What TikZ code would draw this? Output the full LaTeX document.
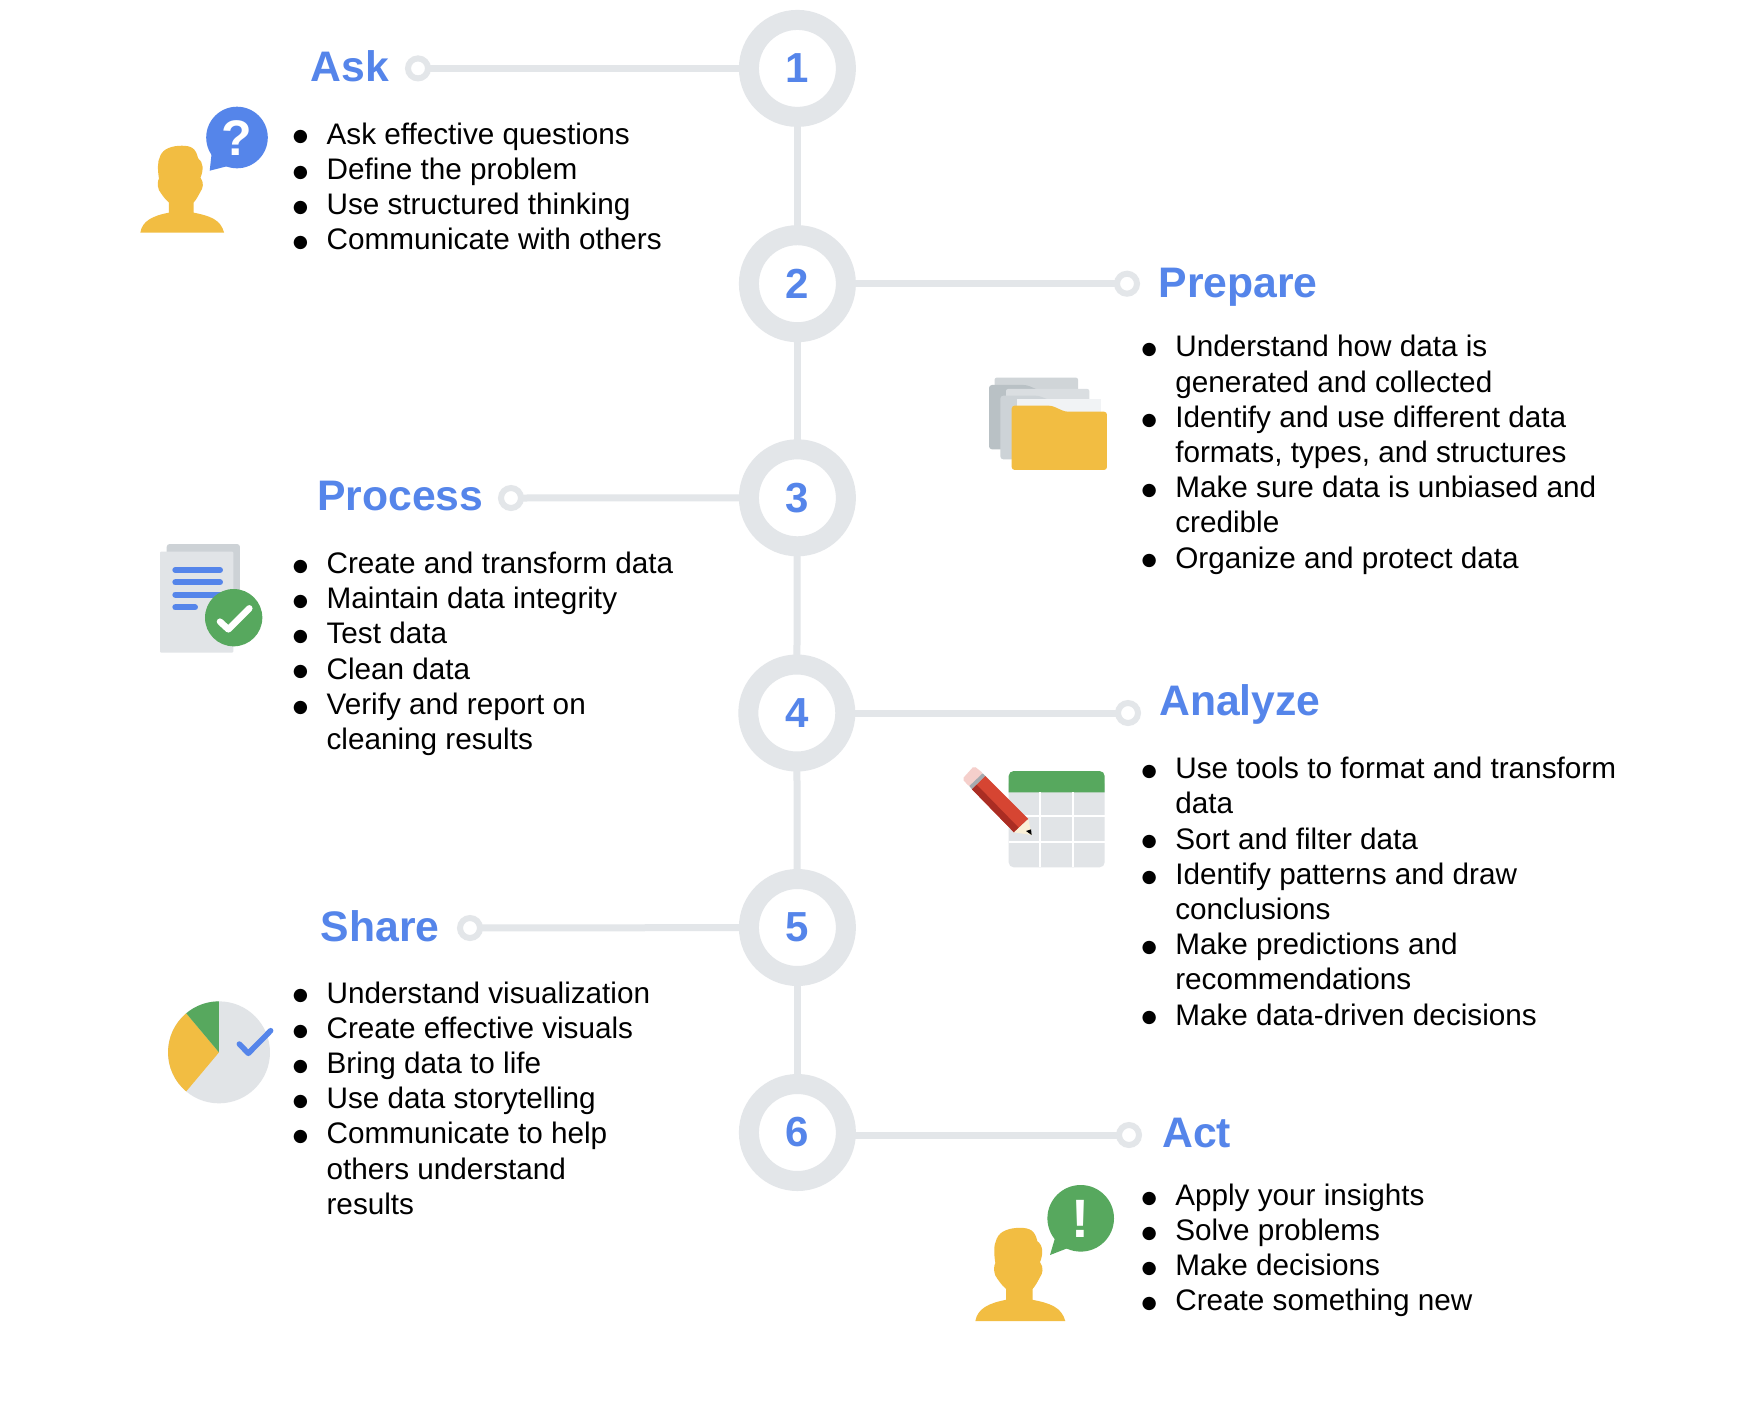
\documentclass[tikz,border=0pt]{standalone}
\usepackage{fontspec}
\setmainfont{Liberation Sans}
\newfontfamily\bulfont{DejaVu Sans}
\definecolor{ringc}{HTML}{E3E6E9}
\definecolor{blu}{HTML}{5585EA}
\definecolor{yel}{HTML}{F2BD42}
\definecolor{grn}{HTML}{57A85E}
\definecolor{paleg}{HTML}{E1E4E7}
\newcommand\bul{\strut\makebox[0pt][r]{\raisebox{2.2pt}{\bulfont\fontsize{17.5}{17.5}\selectfont ●}\hspace{18.5pt}}}
\newcommand\personpath{(46,452) .. controls (52,415) and (85,398) .. (138,388) -- (138,355)
 .. controls (125,345) and (112,325) .. (106,315) .. controls (100,300) and (102,285) .. (106,278)
 .. controls (102,250) and (100,225) .. (110,205) .. controls (120,180) and (150,172) .. (180,172)
 .. controls (210,172) and (225,180) .. (232,212) .. controls (250,225) and (250,250) .. (240,275)
 .. controls (252,290) and (248,310) .. (240,320) .. controls (232,335) and (225,348) .. (218,355)
 -- (218,388) .. controls (270,398) and (305,410) .. (316,452) -- cycle}
\tikzset{
 x=1pt,y=-1pt,
 ringnode/.style={circle,draw=ringc,line width=20pt,fill=white,minimum size=97pt,inner sep=0pt,text=blu,font=\fontsize{42}{42}\selectfont\bfseries},
 dotnode/.style={circle,draw=ringc,line width=6pt,fill=white,minimum size=20pt,inner sep=0pt},
 conn/.style={draw=ringc,line width=7pt,shorten <=-3pt,shorten >=-3pt},
 head/.style={anchor=base west,inner sep=0pt,text=blu,font=\fontsize{42.7}{43}\selectfont\bfseries},
 listnode/.style={anchor=north west,inner sep=0pt,outer sep=0pt,align=left,text=black,font=\fontsize{29.7}{35.2}\selectfont},
 glyph/.style={inner sep=0pt,text=white,font=\fontsize{50}{50}\selectfont\bfseries},
}
\begin{document}
\begin{tikzpicture}
\useasboundingbox (0,0) rectangle (1758,1401);
\fill[white] (0,0) rectangle (1758,1401);
% ring nodes
\node[ringnode] (c1) at (797.4,68.4) {1};
\node[ringnode] (c2) at (797.4,283.7) {2};
\node[ringnode] (c3) at (797.4,497.8) {3};
\node[ringnode] (c4) at (796.8,713) {4};
\node[ringnode] (c5) at (797.4,927.5) {5};
\node[ringnode] (c6) at (797.4,1132.5) {6};
\draw[conn] (c1) -- (c2);
\draw[conn] (c2) -- (c3);
\draw[conn] (c3) -- (c4);
\draw[conn] (c4) -- (c5);
\draw[conn] (c5) -- (c6);
% dots
\node[dotnode] (d1) at (418,68.4) {};
\node[dotnode] (d2) at (1127,283.7) {};
\node[dotnode] (d3) at (511,498) {};
\node[dotnode] (d4) at (1128,713) {};
\node[dotnode] (d5) at (470,928) {};
\node[dotnode] (d6) at (1129,1135) {};
\draw[conn] (c1) -- (d1);
\draw[conn] (c2) -- (d2);
\draw[conn] (c3) -- (d3);
\draw[conn] (d4) -- (d4 -| c4.east);
\draw[conn] (c5) -- (d5);
\draw[conn] (d6) -- (d6 -| c6.east);
% headings
\node[head] (h1) at (310.5,81.7) {Ask};
\node[head] (h2) at (1158.5,297.7) {Prepare};
\node[head] (h3) at (317,510.5) {Process};
\node[head] (h4) at (1159,715) {Analyze};
\node[head] (h5) at (320.6,941) {Share};
\node[head] (h6) at (1162,1147) {Act};
% lists
\node[listnode] (l1) at (326.6,119.4) {\bul Ask effective questions\\\bul Define the problem\\\bul Use structured thinking\\\bul Communicate with others};
\node[listnode] (l2) at (1175.3,332.3) {\bul Understand how data is\\generated and collected\\\bul Identify and use different data\\formats, types, and structures\\\bul Make sure data is unbiased and\\credible\\\bul Organize and protect data};
\node[listnode] (l3) at (326.6,548.8) {\bul Create and transform data\\\bul Maintain data integrity\\\bul Test data\\\bul Clean data\\\bul Verify and report on\\cleaning results};
\node[listnode] (l4) at (1175.3,754.1) {\bul Use tools to format and transform\\data\\\bul Sort and filter data\\\bul Identify patterns and draw\\conclusions\\\bul Make predictions and\\recommendations\\\bul Make data-driven decisions};
\node[listnode] (l5) at (326.6,978.4) {\bul Understand visualization\\\bul Create effective visuals\\\bul Bring data to life\\\bul Use data storytelling\\\bul Communicate to help\\others understand\\results};
\node[listnode] (l6) at (1175.3,1180.6) {\bul Apply your insights\\\bul Solve problems\\\bul Make decisions\\\bul Create something new};
% Ask icon
\begin{scope}[shift={(126.1,92.4)},scale=0.31]
\fill[yel] \personpath;
\end{scope}
\fill[blu] (237,137.5) circle[radius=30.8];
\fill[blu] (212,150) -- (209.7,170.7) -- (228,166) -- cycle;
\node[glyph] (q) at (237,138) {?};
% Act icon
\begin{scope}[shift={(960,1170.5)},scale=0.3333]
\fill[yel] \personpath;
\end{scope}
\fill[grn] (1080.7,1218.3) circle[radius=33.3];
\fill[grn] (1055,1238) -- (1050,1255) -- (1068,1248) -- cycle;
\node[glyph,font=\fontsize{54}{54}\selectfont\bfseries] (ex) at (1080.7,1219) {!};
% Prepare icon
\begin{scope}[shift={(960,240)},scale=0.3333]
\fill[fill={rgb,255:red,208;green,213;blue,216},rounded corners=2pt] (104,413) rectangle (354,620);
\fill[fill={rgb,255:red,185;green,193;blue,197},rounded corners=3pt] (87,628) -- (87,435) -- (200,435) -- (235,450) -- (300,450) -- (300,628) -- cycle;
\fill[fill={rgb,255:red,218;green,222;blue,225},rounded corners=2pt] (138,447) rectangle (388,650);
\fill[fill={rgb,255:red,205;green,211;blue,215},rounded corners=3pt] (121,658) -- (121,467) -- (235,467) -- (268,480) -- (330,480) -- (330,658) -- cycle;
\fill[fill={rgb,255:red,241;green,243;blue,245}] (172,478) rectangle (422,600);
\fill[yel,rounded corners=3pt] (155,690) -- (155,497) -- (275,497) -- (315,515) -- (441,515) -- (441,690) -- cycle;
\end{scope}
% Process icon
\begin{scope}[shift={(140,520)},scale=0.3333]
\fill[fill={rgb,255:red,205;green,210;blue,214},rounded corners=3pt] (80,72) rectangle (300,375);
\fill[paleg,rounded corners=1pt] (60,95) rectangle (280,398);
\draw[blu,line width=6pt,line cap=round] (106,150) -- (240,150);
\draw[blu,line width=6pt,line cap=round] (106,187) -- (240,187);
\draw[blu,line width=6pt,line cap=round] (106,224) -- (240,224);
\draw[blu,line width=6pt,line cap=round] (106,262) -- (165,262);
\fill[grn] (281,293) circle[radius=86];
\draw[white,line width=6.5pt,line cap=round,line join=round] (240,305) -- (265,328) -- (328,265);
\end{scope}
% Analyze icon
\begin{scope}[shift={(950,750)},scale=0.3333]
\fill[paleg] (176,100) [rounded corners=5pt] -- (176,352) -- (464,352) [sharp corners] -- (464,100) -- cycle;
\fill[grn] (176,127) [rounded corners=5pt] -- (176,63) -- (464,63) [sharp corners] -- (464,127) -- cycle;
\draw[white,line width=1.7pt] (270,127) -- (270,352) (370,127) -- (370,352) (176,198) -- (464,198) (176,275) -- (464,275);
\fill[fill={rgb,255:red,245;green,207;blue,203},rounded corners=2pt] (37,87) -- (72,48) -- (100,70) -- (58,110) -- cycle;
\fill[fill={rgb,255:red,165;green,170;blue,175}] (58,108) -- (98,70) -- (106,78) -- (66,118) -- cycle;
\fill[fill={rgb,255:red,214;green,69;blue,50}] (66,118) -- (106,78) -- (235,207) -- (192,247) -- cycle;
\fill[fill={rgb,255:red,170;green,45;blue,35}] (66,118) -- (80,104) -- (206,233) -- (192,247) -- cycle;
\fill[fill={rgb,255:red,250;green,240;blue,215}] (192,247) -- (235,207) -- (245,255) -- cycle;
\fill[black] (228,243) -- (243,238) -- (245,255) -- cycle;
\end{scope}
% Share icon
\begin{scope}[shift={(150,980)},scale=0.3333]
\fill[paleg] (207,217) circle[radius=153];
\fill[yel] (207,217) -- (108.7,99.8) .. controls (35.9,161) and (35.9,273) .. (108.7,334.2) -- cycle;
\fill[grn] (207,217) -- (207,64) .. controls (171,64) and (136.3,76.7) .. (108.7,99.8) -- cycle;
\draw[blu,line width=5.5pt,line cap=round,line join=round] (268,192) -- (295,220) -- (362,152);
\end{scope}
\end{tikzpicture}
\end{document}
